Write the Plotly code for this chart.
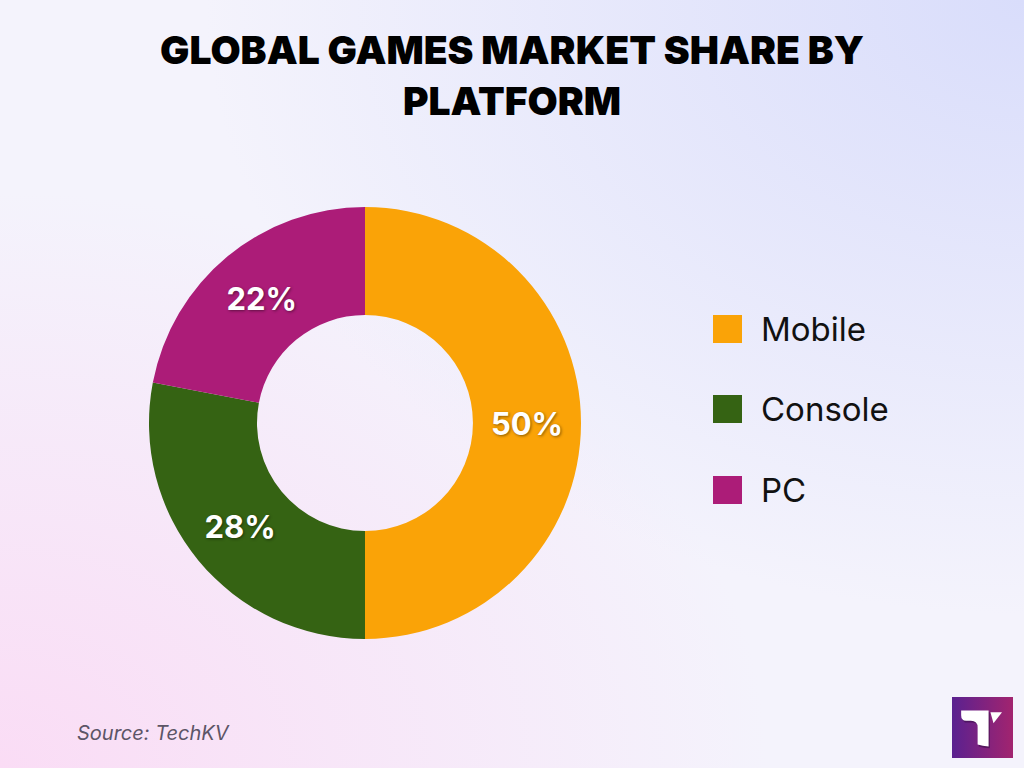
import base64
import plotly.graph_objects as go

# ---- data ----
platforms = ["Mobile", "Console", "PC"]
shares = [50, 28, 22]
colors = ["#FAA307", "#356313", "#AC1C78"]

title_text = "GLOBAL GAMES MARKET SHARE BY<br>PLATFORM"
source_text = "Source: TechKV"

W, H = 1024, 768

# ---- background gradient (SVG) ----
bg_svg = f"""<svg xmlns='http://www.w3.org/2000/svg' width='{W}' height='{H}' viewBox='0 0 {W} {H}' preserveAspectRatio='none'>
<defs>
<radialGradient id='pink' cx='0' cy='1' r='0.75'>
<stop offset='0' stop-color='#FADCF5' stop-opacity='1'/>
<stop offset='1' stop-color='#FADCF5' stop-opacity='0'/>
</radialGradient>
<radialGradient id='blue' cx='1' cy='0' r='0.8'>
<stop offset='0' stop-color='#D9DDFB' stop-opacity='1'/>
<stop offset='1' stop-color='#D9DDFB' stop-opacity='0'/>
</radialGradient>
</defs>
<rect width='{W}' height='{H}' fill='#F4F3FC'/>
<rect width='{W}' height='{H}' fill='url(#pink)'/>
<rect width='{W}' height='{H}' fill='url(#blue)'/>
</svg>"""
bg_uri = "data:image/svg+xml;base64," + base64.b64encode(bg_svg.encode()).decode()

logo_svg = """<svg xmlns='http://www.w3.org/2000/svg' width='100' height='100' viewBox='0 0 100 100'>
<defs>
<linearGradient id='g' x1='0' y1='0' x2='1' y2='0'>
<stop offset='0' stop-color='#5A2190'/>
<stop offset='1' stop-color='#A2246F'/>
</linearGradient>
</defs>
<rect width='100' height='100' fill='url(#g)'/>
<path d='M17,25 L62,25 L62,84 Q52,84 44,81 L44,53 Q44,42 33,42 L25,42 Q17,42 17,33 Z' fill='#3a0f4a' opacity='0.6'/>
<path d='M15,22 L60,22 L60,81 Q50,81 42,78 L42,50 Q42,39 31,39 L23,39 Q15,39 15,30 Z' fill='#FFFFFF'/>
<path d='M63,25 L82,25 L68,43 Z' fill='#FFFFFF'/>
</svg>"""
logo_uri = "data:image/svg+xml;base64," + base64.b64encode(logo_svg.encode()).decode()

fig = go.Figure()

fig.add_trace(go.Pie(
    labels=platforms,
    values=shares,
    marker=dict(colors=colors, line=dict(width=0)),
    hole=0.5,
    sort=False,
    direction="clockwise",
    rotation=0,
    textinfo="percent",
    textposition="inside",
    insidetextorientation="horizontal",
    textfont=dict(family="Inter", size=31, color="white", weight="bold",
                  shadow="1px 1px 3px rgba(0,0,0,0.45)"),
    domain=dict(x=[149 / W, 581 / W], y=[1 - 639 / H, 1 - 207 / H]),
    showlegend=False,
    hoverinfo="label+percent",
))

# manual legend (large swatches)
shapes = []
annotations = []
legend_y = [329, 409, 490]
for name, col, yc in zip(platforms, colors, legend_y):
    shapes.append(dict(type="rect", xref="paper", yref="paper",
                       x0=713 / W, x1=742 / W,
                       y0=1 - (yc + 14) / H, y1=1 - (yc - 14) / H,
                       fillcolor=col, line=dict(width=0)))
    annotations.append(dict(text=name, xref="paper", yref="paper",
                            x=759 / W, y=1 - yc / H, xanchor="left", yanchor="middle",
                            showarrow=False,
                            font=dict(family="Inter", size=33, color="#111111")))

annotations.append(dict(text=source_text, xref="paper", yref="paper",
                        x=75 / W, y=1 - 733 / H, xanchor="left", yanchor="middle",
                        showarrow=False,
                        font=dict(family="Inter", size=20, color="#5C5566", style="italic")))

fig.update_layout(
    width=W, height=H,
    margin=dict(l=0, r=0, t=0, b=0),
    paper_bgcolor="#F4F3FC",
    plot_bgcolor="rgba(0,0,0,0)",
    title=dict(text=title_text, x=0.5, xanchor="center", y=1 - 64 / H, yanchor="middle",
               font=dict(family="Inter", size=39, color="#000000", weight=900)),
    shapes=shapes,
    annotations=annotations,
    images=[
        dict(source=bg_uri, xref="paper", yref="paper", x=0, y=1, sizex=1, sizey=1,
             xanchor="left", yanchor="top", sizing="stretch", layer="below"),
        dict(source=logo_uri, xref="paper", yref="paper", x=952 / W, y=1 - 697 / H,
             sizex=61 / W, sizey=61 / H, xanchor="left", yanchor="top",
             sizing="stretch", layer="above"),
    ],
)

fig.write_html("out.html", config={"displayModeBar": False},
               post_script="document.body.style.margin='0px';")
